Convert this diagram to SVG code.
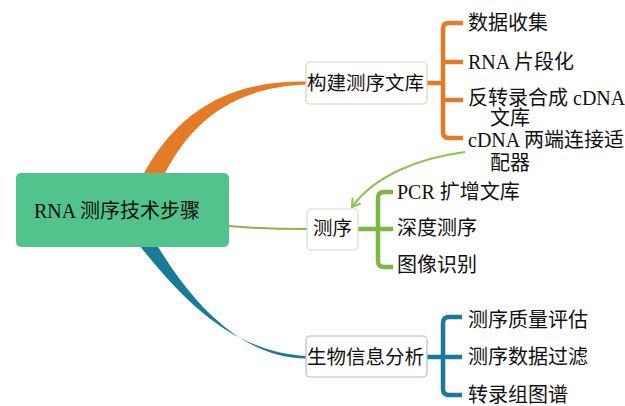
<svg xmlns="http://www.w3.org/2000/svg" width="625" height="406" viewBox="0 0 625 406">
<defs>
<style>
.t{font-family:"Liberation Serif","Noto Sans CJK SC",serif;font-size:20px;fill:#111}
.nt{font-family:"Liberation Serif","Noto Sans CJK SC",serif;font-size:19.5px;fill:#111}
.box{fill:#fff;stroke-width:1.2}
.br{fill:none;stroke-width:4.5;stroke-linecap:butt;stroke-linejoin:round}
</style>
<marker id="ah" viewBox="0 0 12 12" refX="10" refY="6" markerWidth="12" markerHeight="12" markerUnits="userSpaceOnUse" orient="auto">
<path d="M2 1 L10 6 L2 11" fill="none" stroke="#8cc251" stroke-width="2"/>
</marker>
</defs>
<rect width="625" height="406" fill="#fff"/>
<g id="connectors">
<path d="M143 175 C170 125 215 80 306 81.5 L306 84.5 C220 88 185 135 164 175 Z" fill="#e37b28"/>
<path d="M139 245 C180 296 230 352 306 356 L306 358.5 C240 358 190 300 157 245 Z" fill="#1a7b98"/>
<path d="M229 226 C260 229 285 229 307 229" fill="none" stroke="#8db24f" stroke-width="2"/>
<path d="M465 152 C420 158 375 175 352 207" fill="none" stroke="#8cc251" stroke-width="2" marker-end="url(#ah)"/>
<path class="br" stroke="#e37b28" d="M427 83 H443 M463 23 H449 Q443 23 443 29 V132 Q443 138 449 138 H463 M443 62 H463 M443 100 H463"/>
<path class="br" stroke="#7cb845" d="M358 229 H378 M393 192 H384 Q378 192 378 198 V261 Q378 267 384 267 H393 M378 229 H393"/>
<path class="br" stroke="#1a7b98" d="M427 357 H443 M462 317 H449 Q443 317 443 323 V389 Q443 395 449 395 H462 M443 357 H462"/>
</g>
<g id="root">
<rect x="16" y="173" width="213" height="74" rx="5" fill="#52c38c"/>
<text class="t" x="34" y="218">RNA 测序技术步骤</text>
</g>
<g id="n-build">
<rect class="box" x="306" y="62" width="121" height="42" rx="4" stroke="#e3cdb0"/>
<text class="nt" x="307" y="90">构建测序文库</text>
</g>
<g id="n-seq">
<rect class="box" x="307" y="209" width="51" height="41" rx="4" stroke="#d3dcc6"/>
<text class="nt" x="313" y="235">测序</text>
</g>
<g id="n-bio">
<rect class="box" x="306" y="336" width="121" height="41" rx="4" stroke="#aebfc8"/>
<text class="nt" x="307" y="364">生物信息分析</text>
</g>
<g id="c-collect"><text class="t" x="468" y="30">数据收集</text></g>
<g id="c-frag"><text class="t" x="468" y="69">RNA 片段化</text></g>
<g id="c-rt"><text class="t" x="468" y="105">反转录合成 cDNA</text><text class="t" x="490" y="125">文库</text></g>
<g id="c-adapt"><text class="t" x="468" y="147">cDNA 两端连接适</text><text class="t" x="490" y="170">配器</text></g>
<g id="c-pcr"><text class="t" x="397" y="199">PCR 扩增文库</text></g>
<g id="c-deep"><text class="t" x="397" y="235">深度测序</text></g>
<g id="c-image"><text class="t" x="397" y="272">图像识别</text></g>
<g id="c-qc"><text class="t" x="468" y="327">测序质量评估</text></g>
<g id="c-filter"><text class="t" x="468" y="364">测序数据过滤</text></g>
<g id="c-trans"><text class="t" x="468" y="402">转录组图谱</text></g>
</svg>
